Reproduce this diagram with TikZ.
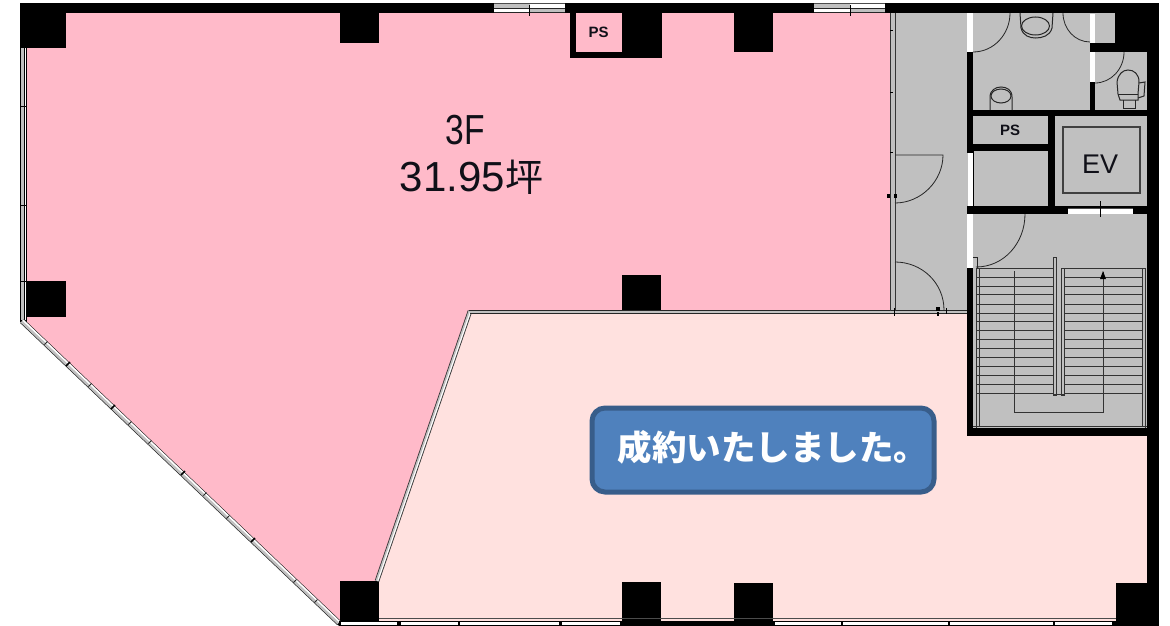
\documentclass[tikz,border=0pt]{standalone}
\usepackage{fontspec}
\setmainfont{Liberation Sans}
\newfontfamily\cjk{Noto Sans CJK JP}
\definecolor{rose}{HTML}{FFBAC9}
\definecolor{blush}{HTML}{FFE1DF}
\definecolor{core}{HTML}{C0C0C0}
\definecolor{btn}{HTML}{4F81BD}
\definecolor{btnb}{HTML}{385D8A}
\definecolor{ink}{HTML}{101018}
\tikzset{
 solidw/.style={fill=black,draw=none},
 thin line/.style={draw=black!85,line width=0.8pt},
 stairline/.style={draw=black!80,line width=1pt},
 gap/.style={fill=white,draw=none},
 tick/.style={draw=black,line width=1pt},
}
\begin{document}
\begin{tikzpicture}[x=1pt,y=-1pt,line join=miter]
\useasboundingbox (0,0) rectangle (1170,626);
\fill[white] (0,0) rectangle (1170,626);
% rooms
\fill[core] (890,10) rectangle (1150,310);
\fill[core] (966,300) rectangle (1150,432);
\fill[blush] (470,310) -- (970,310) -- (970,436) -- (1150,436) -- (1150,621) -- (379,621) -- (376,581) -- cycle;
\fill[rose] (24,10) -- (891,10) -- (891,311) -- (470,311) -- (376,581) -- (379,622) -- (340,622) -- (24,322) -- cycle;
% outer solid walls
\path[solidw] (20,3) rectangle (1159,13);
\path[solidw] (1147,3) rectangle (1159,626);
\path[solidw] (20,3) rectangle (66,48);
\path[solidw] (27,281) rectangle (66,317);
\path[solidw] (340,13) rectangle (379,43);
\path[solidw] (340,581) rectangle (379,621);
\path[solidw] (622,275) rectangle (661,310);
\path[solidw] (622,582) rectangle (661,626);
\path[solidw] (734,583) rectangle (773,626);
\path[solidw] (1116,583) rectangle (1159,626);
\path[solidw] (734,13) rectangle (773,52);
\path[solidw] (570,13) rectangle (662,58);
\fill[rose] (576,13) rectangle (622,52);
% top windows
\path[gap] (494,3) rectangle (565,13);
\fill[black!70] (494,3) rectangle (565,4);
\fill[core] (494,4) rectangle (530,8);
\fill[white] (530,4) rectangle (565,8);
\fill[white] (494,8) rectangle (530,12);
\fill[core] (530,8) rectangle (565,12);
\draw[thin line] (494,8) -- (565,8) (494,12) -- (565,12);
\draw[tick] (529,5) -- (529,16);
\path[gap] (814,3) rectangle (885,13);
\fill[black!70] (814,3) rectangle (885,4);
\fill[core] (814,4) rectangle (850,8);
\fill[white] (850,4) rectangle (885,8);
\fill[white] (814,8) rectangle (850,12);
\fill[core] (850,8) rectangle (885,12);
\draw[thin line] (814,8) -- (885,8) (814,12) -- (885,12);
\draw[tick] (850,5) -- (850,16);
% left window wall
\fill[black] (20,48) rectangle (27,322);
\fill[core] (21,48) rectangle (24,320);
\fill[white] (24.6,48) rectangle (26.4,320);
\foreach \yy in {106,205,281}{\draw[tick] (20,\yy) -- (27,\yy);}
% diagonal window wall
\coordinate (dgA) at (22,321);
\coordinate (dgB) at (339,623);
\draw[line width=5.4pt,black!85] (dgA) -- (dgB);
\draw[line width=4pt,core] (dgA) -- (dgB);
\draw[line width=1.4pt,white] ([xshift=0.9pt,yshift=0.9pt]dgA) -- ([xshift=0.9pt,yshift=0.9pt]dgB);
\foreach \tx/\ty in {68/364,113/407,183/473,253/540,340/623}{\draw[tick,line width=1.6pt] (\tx-2,\ty+2) -- (\tx+2,\ty-2);}
\foreach \tx/\ty in {46/343,90/385,130/423,150/442,205/494,228/517,295/581,316/601}{\draw[black!85,line width=1pt] (\tx-1.5,\ty+1.5) -- (\tx+1.5,\ty-1.5);}
% inner sloped partition
\coordinate (ptA) at (470,311);
\coordinate (ptB) at (377,581);
\draw[line width=4.6pt,black!80] (ptA) -- (ptB);
\draw[line width=3pt,core] (ptA) -- (ptB);
\draw[line width=1pt,white] ([xshift=0.8pt,yshift=0.3pt]ptA) -- ([xshift=0.8pt,yshift=0.3pt]ptB);
% partition lines
\fill[core] (470,310.5) rectangle (967,313);
\draw[black!85,line width=1pt] (469,310) -- (967,310) (470,313.5) -- (967,313.5);
\draw[black!80,line width=1pt] (890,13) -- (890,311) (895,13) -- (895,311);
\fill[core] (890.6,13) rectangle (894.4,310);
\foreach \yy in {31,92,152}{\draw[tick] (890,\yy) -- (893,\yy);}
\fill[black] (887,194) rectangle (890,198);
\fill[black] (894,194) rectangle (897,198);
\fill[black] (936,307) rectangle (940,311);
\fill[black] (937,312) rectangle (939,316);
\draw[tick] (894,308) -- (894,316) (946,308) -- (946,314);
% bottom wall
\draw[black!70,line width=1pt] (379,618.5) -- (1116,618.5);
\fill[black] (339,621) rectangle (1147,626);
\foreach \xa/\xb in {340.5/397,401/458,460/559,562/620,775/841,843/948,950/1053,1055/1112}{\fill[white] (\xa,622.3) rectangle (\xb,624.6);}
% core walls
\path[solidw] (967,52) rectangle (973,116);
\path[gap] (967,13) rectangle (973,52);
\path[solidw] (1115,13) rectangle (1147,52);
\path[solidw] (1090,43) rectangle (1147,52);
\fill[core] (1095,13) rectangle (1115,43);
\path[gap] (1090,14) rectangle (1095,43);
\path[solidw] (1090,82) rectangle (1095,116);
\path[gap] (1090,52) rectangle (1095,82);
\path[solidw] (967,110) rectangle (1147,116);
\path[solidw] (967,116) rectangle (973,153);
\path[solidw] (967,144) rectangle (1048,151);
\path[solidw] (1048,116) rectangle (1055,208);
\path[gap] (968,153) rectangle (972.5,206);
\path[solidw] (973,151) rectangle (974,206);
\path[solidw] (967,206) rectangle (1147,214);
\path[gap] (1068,208) rectangle (1133,214);
\draw[black!70,line width=.8pt] (1068,208) -- (1133,208);
\draw[tick] (1100,201) -- (1100,217);
\path[gap] (967,214) rectangle (973,268);
\path[solidw] (967,268) rectangle (973,436);
\path[solidw] (967,428) rectangle (1147,436);
% EV car
\draw[black!75,line width=1.2pt] (1063,127) rectangle (1140,193);
% fixtures
\draw[thin line,line width=1pt] (1020,13) -- (1021,28) .. controls (1023,36) and (1030,38) .. (1035.5,38) .. controls (1042,38) and (1050,36) .. (1052,28) -- (1053,13);
\draw[thin line,line width=1pt] (1035.5,26) ellipse [x radius=14,y radius=9];
\draw[thin line,line width=1pt] (990,110) -- (990,97) .. controls (990,90) and (996,87) .. (1001,87) .. controls (1007,87) and (1012,90) .. (1012,97) -- (1012,110);
\draw[thin line,line width=1pt] (1001,96) ellipse [x radius=10,y radius=7];
\draw[thin line,line width=1pt] (1118,94) -- (1117,82) .. controls (1118,74) and (1123,70) .. (1128,70) .. controls (1134,70) and (1139,74) .. (1139,82) -- (1138,94) -- (1138,100) -- (1120,100) -- cycle;
\draw[thin line,line width=1pt] (1118,94) -- (1138,94);
\draw[thin line,line width=1pt] (1139,83) -- (1145,82) -- (1144,96) -- (1138,98);
\draw[thin line,line width=1pt] (1123,100) -- (1123,108) -- (1135,108) -- (1135,100);
% doors
\draw[thin line] (895,155) -- (943,155) .. controls (943,181) and (921,203) .. (895,203);
\draw[thin line] (895,262) .. controls (922,262) and (944,283) .. (944,310);
\draw[thin line] (1025,214) .. controls (1025,243) and (1004,267) .. (976,267);
\draw[thin line] (1010,13) .. controls (1010,34) and (994,52) .. (973,52);
\draw[thin line] (1063,13) .. controls (1063,29) and (1075,42) .. (1090,42);
\draw[thin line] (1124,52) .. controls (1124,69) and (1111,83) .. (1095,83);
\draw[thin line] (973,257) -- (977,257) -- (977,268);
% stairs
\draw[stairline] (976,268) -- (1053,268) (1064,268) -- (1145,268);
\draw[stairline] (976,268) -- (976,428) (979,268) -- (979,426);
\draw[stairline] (1142,268) -- (1142,426) (1145,268) -- (1145,428);
\draw[stairline] (973,426) -- (1147,426);
\foreach \yy in {277,286,294.5,304,313,321.5,330.5,339,348,357,366,375.5,384.5,393.5}{
  \draw[stairline] (977,\yy) -- (1053,\yy) (1064,\yy) -- (1142,\yy);}
\draw[stairline] (1053,257) rectangle (1056,395);
\draw[stairline] (1061,268) rectangle (1064,395);
\draw[stairline] (1053,394.5) -- (1064,394.5);
\coordinate (flA) at (1014,271);
\coordinate (flB) at (1103,272);
\draw[stairline] (flA) |- (flB |- 0,412) -- (flB);
\fill[black] (1103,271) -- (1106,279) -- (1100,279) -- cycle;
% labels
\node[font=\fontsize{15}{15}\selectfont\bfseries,text=ink,inner sep=0] (psa) at (598.5,32) {PS};
\node[font=\fontsize{15}{15}\selectfont\bfseries,text=ink,inner sep=0] (psb) at (1010,130) {PS};
\node[font=\fontsize{27}{27}\selectfont,text=ink,inner sep=0] (ev) at (1100,164) {EV};
\node[font=\fontsize{42}{42}\selectfont,text=ink,inner sep=0,xscale=0.8] (floorname) at (465,130.5) {3F};
\node[font=\fontsize{42}{42}\selectfont,text=ink,inner sep=0] (area) at (471.5,177) {31.95{\cjk\fontsize{38}{38}\selectfont 坪}};
\node[draw=btnb,fill=btn,line width=5pt,rounded corners=13pt,minimum width=342pt,minimum height=84pt,inner sep=0] (sold) at (763,450) {};
\node[font=\cjk\bfseries\fontsize{34.5}{34.5}\selectfont,text=white,inner sep=0] (soldt) at (773,447) {成約いたしました。};
\end{tikzpicture}
\end{document}
